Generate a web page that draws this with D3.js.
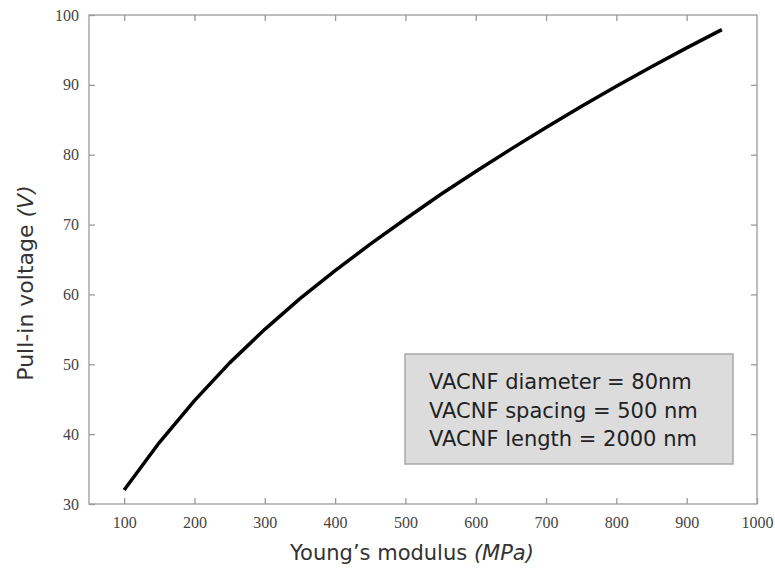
<!DOCTYPE html>
<html>
<head>
<meta charset="utf-8">
<script src="https://cdn.jsdelivr.net/npm/d3@7"></script>
<style>
  body { margin: 0; background: #fff; }
</style>
</head>
<body>
<div id="chart"></div>
<script>
var modulus = [100, 150, 200, 250, 300, 350, 400, 450, 500, 550, 600, 650, 700, 750, 800, 850, 900, 950];
var voltage = [32, 38.8, 44.8, 50.2, 55.0, 59.4, 63.4, 67.2, 70.8, 74.3, 77.6, 80.8, 83.9, 86.9, 89.8, 92.6, 95.3, 97.9];
var x_ticks = [100, 200, 300, 400, 500, 600, 700, 800, 900, 1000];
var y_ticks = [30, 40, 50, 60, 70, 80, 90, 100];
var legend_lines = ['VACNF diameter = 80nm', 'VACNF spacing = 500 nm', 'VACNF length = 2000 nm'];

var plot_left = 89, plot_right = 757, plot_top = 15, plot_bottom = 504;

var x_scale = d3.scaleLinear().domain([50, 1000]).range([plot_left, plot_right]);
var y_scale = d3.scaleLinear().domain([30, 100]).range([plot_bottom, plot_top]);

var svg = d3.select('#chart')
    .append('svg')
    .attr('width', 775)
    .attr('height', 568)
    .style('font-family', 'DejaVu Sans');

// frame
svg.append('rect')
    .attr('x', plot_left).attr('y', plot_top)
    .attr('width', plot_right - plot_left).attr('height', plot_bottom - plot_top)
    .attr('fill', 'none').attr('stroke', '#9a9a9a').attr('stroke-width', 1.3);

var style_axis = function(g){
    g.select('.domain').remove();
    g.selectAll('.tick line').attr('stroke', '#9a9a9a').attr('stroke-width', 1.3);
    g.selectAll('.tick text')
        .attr('fill', '#444')
        .style('font-family', 'Liberation Serif')
        .style('font-size', '16px');
};

svg.append('g').attr('transform', 'translate(0,' + plot_bottom + ')')
    .call(d3.axisBottom(x_scale).tickValues(x_ticks).tickFormat(d3.format('d')).tickSizeInner(-6).tickSizeOuter(0).tickPadding(13))
    .call(style_axis);
svg.append('g').attr('transform', 'translate(0,' + plot_top + ')')
    .call(d3.axisTop(x_scale).tickValues(x_ticks.slice(0, -1)).tickSize(-6).tickFormat(''))
    .call(style_axis);
svg.append('g').attr('transform', 'translate(' + plot_left + ',0)')
    .call(d3.axisLeft(y_scale).tickValues(y_ticks).tickSizeInner(-6).tickSizeOuter(0).tickPadding(10))
    .call(style_axis);
svg.append('g').attr('transform', 'translate(' + plot_right + ',0)')
    .call(d3.axisRight(y_scale).tickValues(y_ticks.slice(1, -1)).tickSize(-6).tickFormat(''))
    .call(style_axis);

// curve
var line = d3.line()
    .x(function(d, i){ return x_scale(modulus[i]); })
    .y(function(d){ return y_scale(d); });

svg.append('path')
    .datum(voltage)
    .attr('d', line)
    .attr('fill', 'none')
    .attr('stroke', '#000')
    .attr('stroke-width', 3.5)
    .attr('stroke-linejoin', 'round');

// legend box
svg.append('rect')
    .attr('x', 405).attr('y', 354)
    .attr('width', 328).attr('height', 110)
    .attr('fill', '#dcdcdc')
    .attr('stroke', '#a8a8a8')
    .attr('stroke-width', 1.5);

svg.append('g').selectAll('text')
    .data(legend_lines)
    .enter()
    .append('text')
    .attr('x', 429)
    .attr('y', function(d, i){ return 389 + i * 28.5; })
    .attr('fill', '#222')
    .style('font-size', '21px')
    .text(function(d){ return d; });

// axis titles
var xt = svg.append('text')
    .attr('x', 412).attr('y', 560)
    .attr('text-anchor', 'middle')
    .attr('fill', '#333')
    .style('font-size', '21px');
xt.append('tspan').text('Young\u2019s modulus ');
xt.append('tspan').style('font-style', 'italic').text('(MPa)');

var yt = svg.append('text')
    .attr('transform', 'translate(33,283) rotate(-90)')
    .attr('text-anchor', 'middle')
    .attr('fill', '#333')
    .style('font-size', '22px');
yt.append('tspan').text('Pull-in voltage ');
yt.append('tspan').style('font-style', 'italic').text('(V)');
</script>
</body>
</html>
